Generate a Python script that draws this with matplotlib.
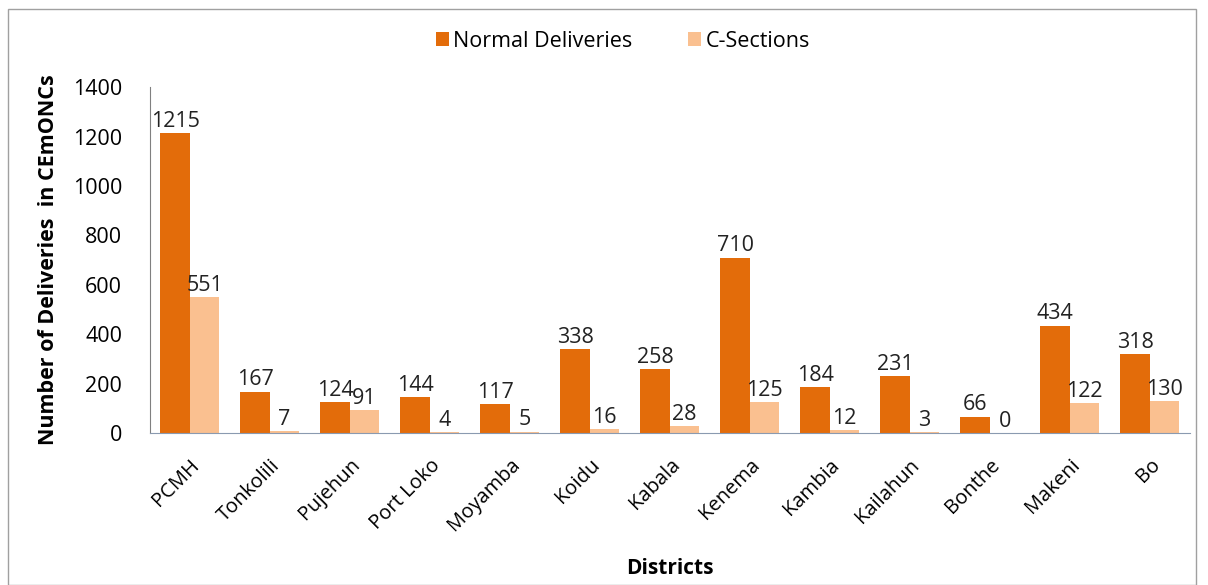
import matplotlib
matplotlib.use("Agg")
import matplotlib.pyplot as plt
import numpy as np
from matplotlib.patches import Rectangle

districts = ["PCMH", "Tonkolili", "Pujehun", "Port Loko", "Moyamba", "Koidu", "Kabala",
             "Kenema", "Kambia", "Kailahun", "Bonthe", "Makeni", "Bo"]
normal = [1215, 167, 124, 144, 117, 338, 258, 710, 184, 231, 66, 434, 318]
csec = [551, 7, 91, 4, 5, 16, 28, 125, 12, 3, 0, 122, 130]
yticks = [0, 200, 400, 600, 800, 1000, 1200, 1400]

plt.rcParams['font.family'] = ['Open Sans', 'DejaVu Sans']
fig = plt.figure(figsize=(12.08, 5.85), dpi=100)
fig.patches.append(Rectangle((0.007, 0.0), 0.983, 0.985, transform=fig.transFigure,
                             fill=False, edgecolor='#a0a0a0', linewidth=1.0))
ax = fig.add_axes([0.124, 0.260, 0.861, 0.591])

x = np.arange(len(districts))
w = 0.37
c1, c2 = '#E36C0A', '#FAC090'
ax.bar(x - w/2, normal, w, color=c1, label='Normal Deliveries')
ax.bar(x + w/2, csec, w, color=c2, label='C-Sections')
for xi, v in zip(x - w/2, normal):
    ax.text(xi, v + 5, str(v), ha='center', va='bottom', fontsize=15.5, color='#222222')
for xi, v in zip(x + w/2, csec):
    ax.text(xi, v + 5, str(v), ha='center', va='bottom', fontsize=15.5, color='#222222')

ax.set_xlim(-0.5, len(districts) - 0.5)
ax.set_ylim(0, 1400)
ax.set_yticks(yticks)
ax.set_yticklabels([str(t) for t in yticks], fontsize=15.5)
ax.set_xticks(x)
ax.set_xticklabels(districts, rotation=45, ha='right', rotation_mode='anchor', fontsize=14.5)
ax.tick_params(axis='y', length=0, pad=20)
ax.tick_params(axis='x', length=0, pad=16)
for s in ['top', 'right']:
    ax.spines[s].set_visible(False)
ax.spines['left'].set_color('#808080')
ax.spines['bottom'].set_color('#8a9ab0')
ax.set_ylabel('Number of Deliveries  in CEmONCs', fontsize=15.5, fontweight='bold', labelpad=10)
ax.set_xlabel('Districts', fontsize=15, fontweight='bold', labelpad=16)
ax.legend(loc='center', bbox_to_anchor=(0.455, 1.133), ncol=2, frameon=False,
          fontsize=15.5, handlelength=0.6, handleheight=0.6, handletextpad=0.2, columnspacing=2.6)
fig.savefig('out.png', dpi=100)
